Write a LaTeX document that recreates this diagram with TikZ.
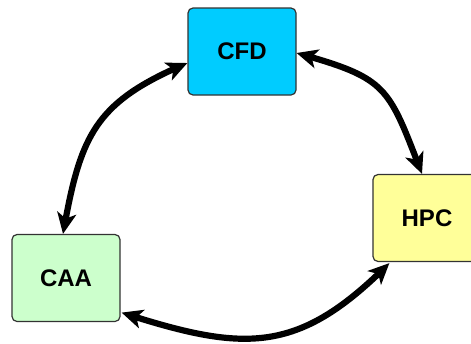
\documentclass[tikz,border=0pt]{standalone}
\usepackage{fontspec}
\setmainfont{Liberation Sans}
\usetikzlibrary{arrows.meta,bending}
\definecolor{cfdfill}{HTML}{00CCFF}
\definecolor{hpcfill}{HTML}{FFFF99}
\definecolor{caafill}{HTML}{CCFFCC}
\definecolor{boxedge}{HTML}{333333}
\begin{document}
\begin{tikzpicture}[x=1pt,y=-1pt,
  box/.style={draw=boxedge, line width=1.2pt, rounded corners=5pt,
    minimum width=108pt, minimum height=87pt, inner sep=0pt,
    font=\fontsize{24}{28}\selectfont\bfseries},
  tipshape/.tip={Stealth[length=21pt,width=19pt,inset=5.5pt]},
  link/.style={line width=6.2pt, tipshape-tipshape}]
\useasboundingbox (0,0) rectangle (471,343);

% the three boxes
\node[box, fill=cfdfill] (cfd) at (242,51.5) {CFD};
\node[box, fill=hpcfill] (hpc) at (427,218) {HPC};
\node[box, fill=caafill] (caa) at (66,278) {CAA};

% curved two-way links between them
\draw[link] ([yshift=-1.5pt]cfd.east)
  .. controls (388.5,78.5) and (388,86.3) .. ([xshift=-5pt]hpc.north);
\draw[link] ([xshift=17pt,yshift=-1pt]hpc.south west)
  .. controls (298,355) and (244.6,352.2) .. ([xshift=1pt,yshift=9.5pt]caa.south east);
\draw[link] ([xshift=-3pt]caa.north)
  .. controls (80.4,134.5) and (94.9,102.1) .. ([yshift=-11.5pt]cfd.west);
\end{tikzpicture}
\end{document}
